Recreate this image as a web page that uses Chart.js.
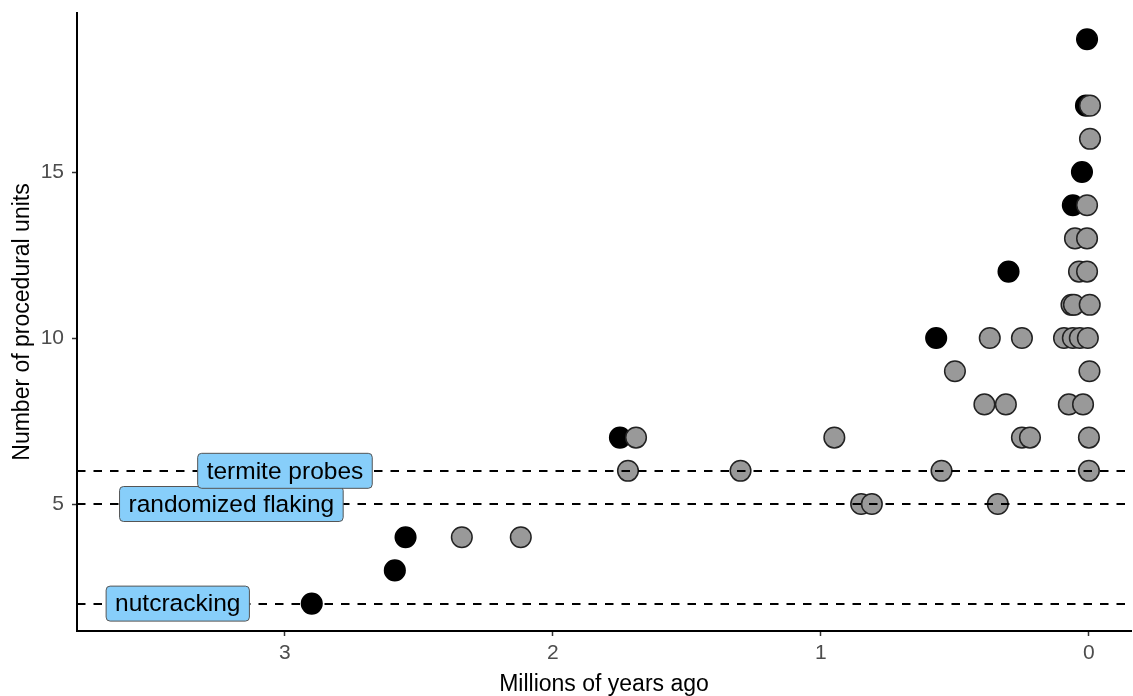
<!DOCTYPE html>
<html>
<head>
<meta charset="utf-8">
<script src="https://cdn.jsdelivr.net/npm/chart.js@4"></script>
<style>
  html, body { margin: 0; padding: 0; background: #ffffff; }
  #wrap { width: 1133px; height: 696px; }
</style>
</head>
<body>
<div id="wrap"><canvas id="chart" width="1133" height="696"></canvas></div>
<script>
// Ages (millions of years ago) and procedural-unit counts.
// Black: highlighted behaviours; grey: all other techniques.
const blackAge   = [2.90, 2.59, 2.55, 1.75, 0.57, 0.30, 0.06, 0.026, 0.011, 0.007];
const blackUnits = [2, 3, 4, 7, 10, 12, 14, 15, 17, 19];

const greyAge = [
  2.34, 2.12, 1.72, 1.69, 1.30, 0.95, 0.85, 0.81, 0.55, 0.50,
  0.39, 0.37, 0.34, 0.31, 0.25, 0.25, 0.22,
  0.093, 0.060, 0.034, 0.004,
  0.065, 0.056, -0.003,
  0.037, 0.007,
  0.052, 0.007,
  0.007, -0.004, -0.004, -0.002,
  0.075, 0.022,
  0.0, 0.0
];
const greyUnits = [
  4, 4, 6, 7, 6, 7, 5, 5, 6, 9,
  8, 10, 5, 8, 10, 7, 7,
  10, 10, 10, 10,
  11, 11, 11,
  12, 12,
  13, 13,
  14, 16, 17, 9,
  8, 8,
  7, 6
];

// Reference levels for non-human behaviours
const refLevels = [2, 5, 6];
const refLabels = ['nutcracking', 'randomized flaking', 'termite probes'];
const refLabelAge = [3.4, 3.2, 3.0];

const xTicks = [0, 1, 2, 3];
const yTicks = [5, 10, 15];

const refPlugin = {
  id: 'refLines',
  afterDatasetsDraw(chart) {
    const {ctx, chartArea, scales: {x, y}} = chart;
    ctx.save();
    // dashed horizontal lines
    ctx.beginPath();
    ctx.rect(chartArea.left, chartArea.top, chartArea.right - chartArea.left, chartArea.bottom - chartArea.top);
    ctx.clip();
    ctx.strokeStyle = '#000000';
    ctx.lineWidth = 2;
    ctx.setLineDash([8.5, 8]);
    refLevels.forEach(v => {
      const py = Math.round(y.getPixelForValue(v));
      ctx.beginPath();
      ctx.moveTo(chartArea.left, py);
      ctx.lineTo(chartArea.right, py);
      ctx.stroke();
    });
    ctx.setLineDash([]);
    // labels
    ctx.font = '24.5px "Liberation Sans", Arial, sans-serif';
    ctx.textAlign = 'center';
    ctx.textBaseline = 'middle';
    refLevels.forEach((v, i) => {
      const cx = x.getPixelForValue(refLabelAge[i]);
      const cy = y.getPixelForValue(v);
      const w = ctx.measureText(refLabels[i]).width + 18;
      const h = 35;
      const bx = cx - w / 2, by = cy - h / 2;
      ctx.beginPath();
      ctx.roundRect(bx, by, w, h, 4);
      ctx.fillStyle = '#87CEFA';
      ctx.fill();
      ctx.lineWidth = 1;
      ctx.strokeStyle = '#555555';
      ctx.stroke();
      ctx.fillStyle = '#000000';
      ctx.fillText(refLabels[i], cx, cy + 1);
    });
    ctx.restore();
  }
};

const toPoints = (xs, ys) => xs.map((v, i) => ({x: v, y: ys[i]}));

new Chart(document.getElementById('chart'), {
  type: 'scatter',
  data: {
    datasets: [
      {
        label: 'other',
        data: toPoints(greyAge, greyUnits),
        backgroundColor: '#999999',
        borderColor: '#222222',
        borderWidth: 1.5,
        pointRadius: 10.3,
        pointHoverRadius: 10.3
      },
      {
        label: 'highlighted',
        data: toPoints(blackAge, blackUnits),
        backgroundColor: '#000000',
        borderColor: '#000000',
        borderWidth: 1.5,
        pointRadius: 10.3,
        pointHoverRadius: 10.3
      }
    ]
  },
  options: {
    responsive: false,
    animation: false,
    devicePixelRatio: 1,
    layout: { autoPadding: false, padding: { top: 13, right: 2, left: 0, bottom: 0 } },
    plugins: {
      legend: { display: false },
      tooltip: { enabled: false }
    },
    scales: {
      x: {
        type: 'linear',
        reverse: true,
        min: -0.157,
        max: 3.776,
        afterBuildTicks(scale) { scale.ticks = xTicks.map(v => ({value: v})); },
        afterFit(scale) { scale.height = 65; scale.paddingLeft = 0; scale.paddingRight = 0; },
        border: { display: true, color: '#000000', width: 2 },
        grid: { display: true, drawOnChartArea: false, drawTicks: true, tickLength: 5, tickColor: '#333333', tickWidth: 1.5 },
        ticks: {
          color: '#4d4d4d',
          padding: 5,
          maxRotation: 0,
          font: { family: '"Liberation Sans", Arial, sans-serif', size: 21 },
          callback: v => String(v)
        },
        title: {
          display: true,
          text: 'Millions of years ago',
          color: '#000000',
          padding: { top: 0, bottom: 0 },
          font: { family: '"Liberation Sans", Arial, sans-serif', size: 23, lineHeight: 1 }
        }
      },
      y: {
        type: 'linear',
        min: 1.175,
        max: 19.79,
        afterBuildTicks(scale) { scale.ticks = yTicks.map(v => ({value: v})); },
        afterFit(scale) { scale.width = 77; scale.paddingTop = 0; scale.paddingBottom = 0; },
        border: { display: true, color: '#000000', width: 2 },
        grid: { display: true, drawOnChartArea: false, drawTicks: true, tickLength: 5, tickColor: '#333333', tickWidth: 1.5 },
        ticks: {
          color: '#4d4d4d',
          padding: 8,
          font: { family: '"Liberation Sans", Arial, sans-serif', size: 21 },
          callback: v => String(v)
        },
        title: {
          display: true,
          text: 'Number of procedural units',
          color: '#000000',
          padding: { top: 11, bottom: 0 },
          font: { family: '"Liberation Sans", Arial, sans-serif', size: 23, lineHeight: 1 }
        }
      }
    }
  },
  plugins: [refPlugin]
});
</script>
</body>
</html>
